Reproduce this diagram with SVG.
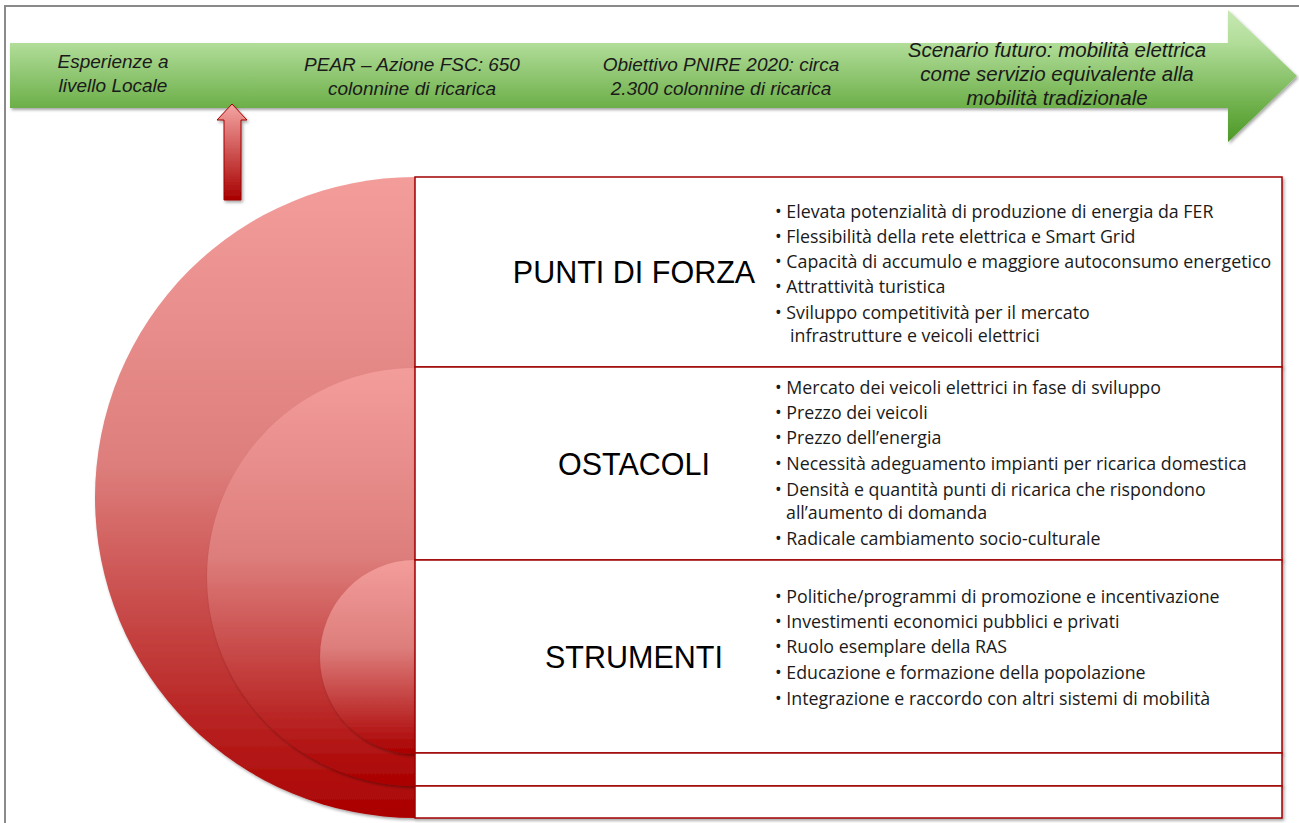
<svg xmlns="http://www.w3.org/2000/svg" width="1299" height="823" viewBox="0 0 1299 823">
<style>
.tl{font-family:"Liberation Sans",Arial,sans-serif;font-style:italic;font-size:19px;fill:#1a1a1a;text-anchor:middle}
.tl2{font-size:20.5px}
.hd{font-family:"Liberation Sans",Arial,sans-serif;font-size:30.5px;fill:#000;text-anchor:middle}
.bl{font-family:"Open Sans","Liberation Sans",sans-serif;font-size:17.8px;fill:#1a1a1a}
.box{fill:#fff;stroke:#A00000;stroke-width:1.5}
</style>
<defs>
<linearGradient id="gArrow" gradientUnits="userSpaceOnUse" x1="0" y1="10" x2="0" y2="142">
<stop offset="0" stop-color="#C8E9B4"/>
<stop offset="0.25" stop-color="#B1DD99"/>
<stop offset="0.75" stop-color="#6BAE47"/>
<stop offset="1" stop-color="#4C9828"/>
</linearGradient>
<linearGradient id="gRed" x1="0" y1="0" x2="0" y2="1">
<stop offset="0" stop-color="#F39D9B"/>
<stop offset="0.45" stop-color="#DD7E7C"/>
<stop offset="1" stop-color="#AA0000"/>
</linearGradient>
<linearGradient id="gUp" x1="0" y1="0" x2="0" y2="1">
<stop offset="0" stop-color="#F4A6A4"/>
<stop offset="1" stop-color="#A80000"/>
</linearGradient>
<filter id="sh" x="-10%" y="-10%" width="125%" height="125%">
<feDropShadow dx="1.5" dy="2" stdDeviation="1.5" flood-color="#000" flood-opacity="0.35"/>
</filter>
</defs>
<rect x="0" y="0" width="1299" height="823" fill="#fff"/>
<rect x="5" y="6" width="1310" height="840" fill="none" stroke="#8a8a8a" stroke-width="2"/>

<g id="timeline">
<path d="M10 43 H1228 V10 L1297 76 L1228 142 V108 H10 Z" fill="url(#gArrow)" filter="url(#sh)"/>
<text class="tl" x="113" y="68">Esperienze a</text>
<text class="tl" x="113" y="92">livello Locale</text>
<text class="tl" x="412" y="71">PEAR – Azione FSC: 650</text>
<text class="tl" x="412" y="95">colonnine di ricarica</text>
<text class="tl" x="721" y="71">Obiettivo PNIRE 2020: circa</text>
<text class="tl" x="721" y="95">2.300 colonnine di ricarica</text>
<text class="tl tl2" x="1057" y="57">Scenario futuro: mobilità elettrica</text>
<text class="tl tl2" x="1057" y="81">come servizio equivalente alla</text>
<text class="tl tl2" x="1057" y="105">mobilità tradizionale</text>
</g>

<g id="connectors">
<path d="M232 104 L247 120 H241 V200 H224 V120 H217 Z" fill="url(#gUp)" stroke="#A00000" stroke-width="1" filter="url(#sh)"/>
</g>

<g id="arcs">
<path id="arc-outer" d="M415 177 A320 320.5 0 0 0 415 818 Z" fill="url(#gRed)" filter="url(#sh)"/>
<path id="arc-middle" d="M415 368 A208 209 0 0 0 415 786 Z" fill="url(#gRed)" filter="url(#sh)"/>
<path id="arc-inner" d="M415 560 A95 97 0 0 0 415 754 Z" fill="url(#gRed)" filter="url(#sh)"/>
</g>

<g id="punti-di-forza">
<rect class="box" x="415" y="177" width="867" height="190" filter="url(#sh)"/>
<text class="hd" x="634" y="283">PUNTI DI FORZA</text>
<text class="bl" x="775" y="218">• Elevata potenzialità di produzione di energia da FER</text>
<text class="bl" x="775" y="243">• Flessibilità della rete elettrica e Smart Grid</text>
<text class="bl" x="775" y="268">• Capacità di accumulo e maggiore autoconsumo energetico</text>
<text class="bl" x="775" y="293">• Attrattività turistica</text>
<text class="bl" x="775" y="319">• Sviluppo competitività per il mercato</text>
<text class="bl" x="790" y="342">infrastrutture e veicoli elettrici</text>
</g>

<g id="ostacoli">
<rect class="box" x="415" y="367" width="867" height="193" filter="url(#sh)"/>
<text class="hd" x="634" y="475">OSTACOLI</text>
<text class="bl" x="775" y="394">• Mercato dei veicoli elettrici in fase di sviluppo</text>
<text class="bl" x="775" y="419">• Prezzo dei veicoli</text>
<text class="bl" x="775" y="444">• Prezzo dell’energia</text>
<text class="bl" x="775" y="470">• Necessità adeguamento impianti per ricarica domestica</text>
<text class="bl" x="775" y="496">• Densità e quantità punti di ricarica che rispondono</text>
<text class="bl" x="786" y="519">all’aumento di domanda</text>
<text class="bl" x="775" y="545">• Radicale cambiamento socio-culturale</text>
</g>

<g id="strumenti">
<rect class="box" x="415" y="560" width="867" height="193" filter="url(#sh)"/>
<text class="hd" x="634" y="668">STRUMENTI</text>
<text class="bl" x="775" y="603">• Politiche/programmi di promozione e incentivazione</text>
<text class="bl" x="775" y="628">• Investimenti economici pubblici e privati</text>
<text class="bl" x="775" y="653">• Ruolo esemplare della RAS</text>
<text class="bl" x="775" y="679">• Educazione e formazione della popolazione</text>
<text class="bl" x="775" y="705">• Integrazione e raccordo con altri sistemi di mobilità</text>
</g>

<g id="row-empty-1">
<rect class="box" x="415" y="753" width="867" height="33" filter="url(#sh)"/>
</g>
<g id="row-empty-2">
<rect class="box" x="415" y="786" width="867" height="32" filter="url(#sh)"/>
</g>
</svg>
